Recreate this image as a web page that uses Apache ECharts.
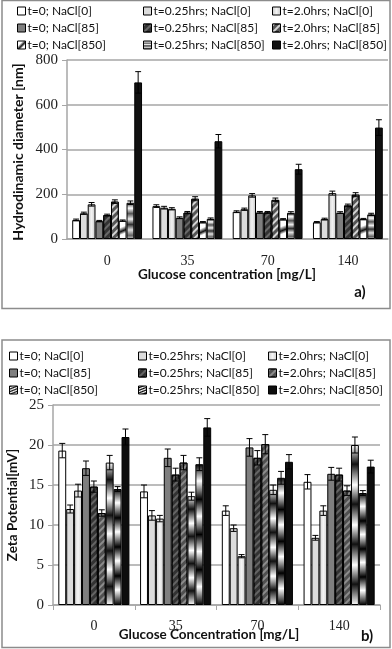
<!DOCTYPE html>
<html>
<head>
<meta charset="utf-8">
<script src="https://cdn.jsdelivr.net/npm/echarts@6/dist/echarts.min.js"></script>
<style>
  html, body { margin: 0; padding: 0; background: #fff; }
  #main { width: 392px; height: 649px; }
</style>
</head>
<body>
<div id="main"></div>
<script>
// glucose concentration groups (mg/L)
const categories = ['0', '35', '70', '140'];

// one name per bar series, in bar order inside a group
const seriesNames = [
    't=0; NaCl[0]', 't=0.25hrs; NaCl[0]', 't=2.0hrs; NaCl[0]',
    't=0; NaCl[85]', 't=0.25hrs; NaCl[85]', 't=2.0hrs; NaCl[85]',
    't=0; NaCl[850]', 't=0.25hrs; NaCl[850]', 't=2.0hrs; NaCl[850]'
];

// a) hydrodynamic diameter [nm], one row per series, one column per glucose level
const diameterMean = [
    [85, 147, 122, 75],
    [115, 140, 133, 89],
    [155, 135, 195, 205],
    [80, 95, 119, 118],
    [107, 118, 119, 150],
    [167, 180, 175, 198],
    [82, 75, 88, 89],
    [162, 90, 117, 110],
    [700, 437, 312, 498]
];
const diameterErr = [
    [4, 6, 4, 3],
    [5, 6, 5, 4],
    [8, 5, 8, 9],
    [3, 4, 4, 4],
    [4, 5, 4, 6],
    [8, 9, 8, 9],
    [3, 3, 3, 3],
    [8, 4, 5, 5],
    [48, 30, 22, 35]
];

// b) zeta potential [mV]
const zetaMean = [
    [19.3, 14.2, 11.8, 15.4],
    [12.0, 11.2, 9.6, 8.4],
    [14.3, 10.8, 6.1, 11.8],
    [17.1, 18.4, 19.7, 16.4],
    [14.8, 16.3, 18.4, 16.3],
    [11.5, 17.8, 20.1, 14.3],
    [17.8, 13.6, 14.4, 20.0],
    [14.5, 17.6, 15.9, 14.0],
    [21.0, 22.2, 17.9, 17.3]
];
const zetaErr = [
    [0.9, 0.8, 0.6, 0.9],
    [0.5, 0.6, 0.4, 0.3],
    [0.8, 0.4, 0.2, 0.6],
    [0.9, 1.1, 1.1, 0.8],
    [0.7, 0.8, 0.9, 0.8],
    [0.4, 0.9, 1.2, 0.6],
    [0.9, 0.5, 0.6, 1.0],
    [0.3, 0.8, 0.8, 0.3],
    [1.0, 1.1, 0.9, 0.8]
];

const diameterTicks = { min: 0, max: 800, interval: 200 };
const zetaTicks = { min: 0, max: 25, interval: 5 };

const GAP = 0.13; // category gap fraction, shared with the error bar layout

function grad(x2, y2, stops) {
    return { type: 'linear', x: 0, y: 0, x2: x2, y2: y2, colorStops: stops.map(s => ({ offset: s[0], color: s[1] })) };
}

const hatch = (color) => ({ symbol: 'rect', color: color, dashArrayX: [1, 0], dashArrayY: [1.5, 2.5], rotation: -Math.PI / 4 });

// fills for the top (a) panel
const fillsA = [
    { color: '#ffffff' },
    { color: '#dcdcdc' },
    { color: grad(1, 0, [[0, '#c8c8c8'], [0.5, '#f2f2f2'], [1, '#c8c8c8']]) },
    { color: '#7f7f7f' },
    { color: '#333333', decal: hatch('rgba(140,140,140,0.6)') },
    { color: '#555555', decal: hatch('rgba(235,235,235,0.85)') },
    { color: grad(1, 1, [[0, '#ffffff'], [0.35, '#ffffff'], [0.55, '#111111'], [0.7, '#ffffff'], [1, '#ffffff']]) },
    { color: grad(0, 1, [[0, '#444'], [0.15, '#fff'], [0.3, '#555'], [0.45, '#eee'], [0.6, '#333'], [0.75, '#ddd'], [0.9, '#666'], [1, '#ccc']]) },
    { color: '#111111' }
];

// fills for the bottom (b) panel
const fillsB = [
    { color: '#ffffff' },
    { color: '#dcdcdc' },
    { color: grad(1, 0, [[0, '#cfcfcf'], [0.5, '#f4f4f4'], [1, '#cfcfcf']]) },
    { color: '#7f7f7f' },
    { color: '#333333', decal: hatch('rgba(150,150,150,0.5)') },
    { color: '#505050', decal: hatch('rgba(200,200,200,0.5)') },
    { color: grad(0.4, 1, [[0, '#fff'], [0.12, '#111'], [0.25, '#fff'], [0.37, '#111'], [0.5, '#fff'], [0.62, '#111'], [0.75, '#fff'], [0.87, '#111'], [1, '#fff']]) },
    { color: grad(0.4, 1, [[0, '#000'], [0.12, '#fff'], [0.25, '#000'], [0.37, '#fff'], [0.5, '#000'], [0.62, '#fff'], [0.75, '#000'], [0.87, '#fff'], [1, '#000']]) },
    { color: '#0d0d0d' }
];

function errorRenderItem(params, api) {
    const cat = api.value(0);
    const k = api.value(1);
    const mean = api.value(2);
    const err = api.value(3);
    const band = api.size([1, 0])[0];
    const barW = band * (1 - GAP) / 9;
    const c = api.coord([cat, mean]);
    const x = c[0] - 4.5 * barW + (k + 0.5) * barW;
    const top = api.coord([cat, mean + err])[1];
    const bot = api.coord([cat, mean - err])[1];
    const half = barW * 0.38;
    const st = { stroke: '#000', lineWidth: 1 };
    return {
        type: 'group',
        children: [
            { type: 'line', shape: { x1: x, y1: top, x2: x, y2: bot }, style: st },
            { type: 'line', shape: { x1: x - half, y1: top, x2: x + half, y2: top }, style: st },
            { type: 'line', shape: { x1: x - half, y1: bot, x2: x + half, y2: bot }, style: st }
        ]
    };
}

function buildSeries(gridIdx, means, errs, fills) {
    const out = [];
    const errData = [];
    seriesNames.forEach((name, k) => {
        out.push({
            name: name,
            type: 'bar',
            xAxisIndex: gridIdx,
            yAxisIndex: gridIdx,
            barGap: '0%',
            barCategoryGap: (GAP * 100) + '%',
            data: means[k],
            itemStyle: Object.assign({ borderColor: '#000', borderWidth: 1 }, fills[k]),
            emphasis: { disabled: true }
        });
        means[k].forEach((v, c) => errData.push([c, k, v, errs[k][c]]));
    });
    out.push({
        type: 'custom',
        xAxisIndex: gridIdx,
        yAxisIndex: gridIdx,
        renderItem: errorRenderItem,
        encode: { x: 0, y: 2 },
        data: errData,
        z: 5,
        silent: true
    });
    return out;
}

function legendColumns(top, lefts, fills) {
    const legends = [];
    for (let col = 0; col < 3; col++) {
        legends.push({
            orient: 'vertical',
            left: lefts[col],
            top: top,
            padding: 0,
            itemWidth: 8,
            itemHeight: 8,
            itemGap: 5,
            icon: 'rect',
            selectedMode: false,
            textStyle: { fontFamily: 'Lato', fontSize: 12, color: '#111', padding: [0, 0, 0, -3] },
            data: [0, 1, 2].map(row => {
                const k = row * 3 + col;
                return { name: seriesNames[k], itemStyle: Object.assign({ borderColor: '#000', borderWidth: 1 }, fills[k]) };
            })
        });
    }
    return legends;
}

const serif = 'Liberation Serif';
const axisGray = '#a6a6a6';

function xAxisCfg(gridIdx, ticks, margin) {
    return {
        type: 'category',
        gridIndex: gridIdx,
        data: categories,
        axisLine: { lineStyle: { color: axisGray, width: 1.5 } },
        axisTick: { show: ticks, length: 5, lineStyle: { color: axisGray } },
        axisLabel: { fontFamily: serif, fontSize: 14, color: '#222', margin: margin }
    };
}

function yAxisCfg(gridIdx, t) {
    return {
        type: 'value',
        gridIndex: gridIdx,
        min: t.min, max: t.max, interval: t.interval,
        axisLine: { show: true, lineStyle: { color: axisGray, width: 1.5 } },
        axisTick: { show: true, length: 5, lineStyle: { color: axisGray } },
        splitLine: { lineStyle: { color: axisGray, width: 1.5 } },
        axisLabel: { fontFamily: serif, fontSize: 15, color: '#222', margin: 9 }
    };
}

const chart = echarts.init(document.getElementById('main'));

const option = {
    animation: false,
    backgroundColor: '#fff',
    grid: [
        { left: 67, right: 4, top: 60, bottom: 410 },
        { left: 53, right: 12, top: 405, bottom: 44 }
    ],
    legend: legendColumns(5, [17, 143, 272], fillsA).concat(legendColumns(350, [9, 138, 268], fillsB)),
    xAxis: [xAxisCfg(0, false, 15), xAxisCfg(1, true, 14)],
    yAxis: [yAxisCfg(0, diameterTicks), yAxisCfg(1, zetaTicks)],
    series: buildSeries(0, diameterMean, diameterErr, fillsA).concat(buildSeries(1, zetaMean, zetaErr, fillsB)),
    graphic: [
        { type: 'rect', shape: { x: 2, y: 0.5, width: 388, height: 308 }, style: { fill: 'none', stroke: '#8c8c8c', lineWidth: 1.5 }, z: -1 },
        { type: 'rect', shape: { x: 2, y: 340, width: 388, height: 307.5 }, style: { fill: 'none', stroke: '#8c8c8c', lineWidth: 1.5 }, z: -1 },
        { type: 'text', x: 18, y: 152, rotation: Math.PI / 2,
          style: { text: 'Hydrodinamic diameter [nm]', font: 'bold 14px Lato', fill: '#111', align: 'center', verticalAlign: 'middle' } },
        { type: 'text', x: 227, y: 275,
          style: { text: 'Glucose concentration [mg/L]', font: 'bold 13.5px Lato', fill: '#111', align: 'center', verticalAlign: 'middle' } },
        { type: 'text', x: 360, y: 292,
          style: { text: 'a)', font: 'bold 15px Lato', fill: '#111', align: 'center', verticalAlign: 'middle' } },
        { type: 'text', x: 13, y: 505, rotation: Math.PI / 2,
          style: { text: 'Zeta Potential[mV]', font: 'bold 13.5px Lato', fill: '#111', align: 'center', verticalAlign: 'middle' } },
        { type: 'text', x: 209, y: 635,
          style: { text: 'Glucose Concentration [mg/L]', font: 'bold 13.5px Lato', fill: '#111', align: 'center', verticalAlign: 'middle' } },
        { type: 'text', x: 367, y: 636,
          style: { text: 'b)', font: 'bold 15px Lato', fill: '#111', align: 'center', verticalAlign: 'middle' } }
    ]
};

chart.setOption(option);
</script>
</body>
</html>
